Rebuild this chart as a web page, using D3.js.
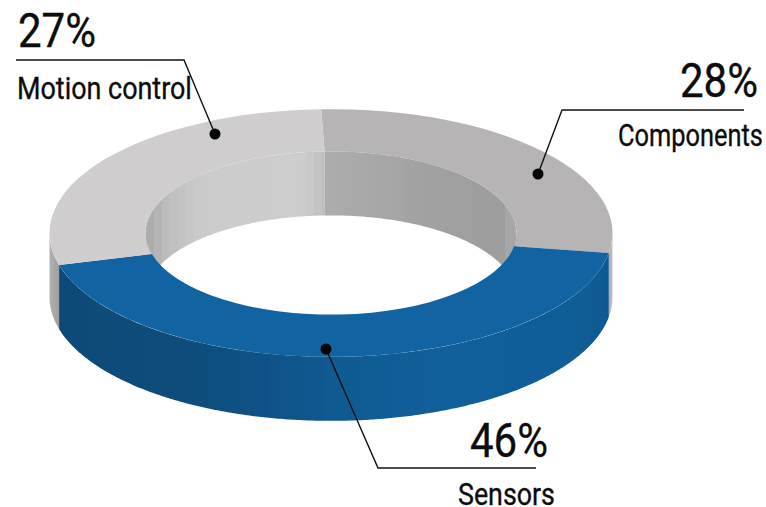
<!DOCTYPE html>
<html>
<head>
<meta charset="utf-8">
<script src="https://cdn.jsdelivr.net/npm/d3@7"></script>
<style>
  html, body { margin: 0; padding: 0; background: #fff; }
  text { font-family: "Roboto", sans-serif; fill: #0c0c0c; stroke: #0c0c0c; stroke-width: 0.35; }
</style>
</head>
<body>
<div id="chart"></div>
<script>
// Chart data, clockwise from the top of the ring
const categories = ["Components", "Sensors", "Motion control"];
const shares = [28, 46, 27];
const shareLabels = ["28%", "46%", "27%"];

const width = 766, height = 507;
const cx = 331, cy = 233;
const outerR = 281.5, innerR = 185.5;
const squash = 0.44; // ellipse height / width
const depth = 64;

const topColors = ["#b6b4b4", "#1163a1", "#cfcdce"];

// the original ring is not drawn exactly to proportion, so slice edges are bent onto it
const drawnEdges = [-2, 99.3, 255, 358];

const toRad = d => d * Math.PI / 180;

const svg = d3.select("#chart")
    .append("svg")
    .attr("width", width)
    .attr("height", height)
    .style("display", "block");

const defs = svg.append("defs");

// Pie layout from the shares
const pie = d3.pie().sort(null).startAngle(toRad(-2)).endAngle(toRad(358));
const slices = pie(shares);

const edgeDomain = [slices[0].startAngle].concat(slices.map(d => d.endAngle));
const bend = d3.scaleLinear().domain(edgeDomain).range(drawnEdges.map(toRad));

// Banded shading of the walls, by x position
const outerBlue = d3.scaleLinear()
    .domain([58, 180, 270, 340, 450, 570, 609])
    .range(["#0e4a78", "#0e4c7c", "#0f5288", "#105a92", "#115f9b", "#105e98", "#0f588f"]);
const outerGrey = d3.scaleLinear()
    .domain([49, 59, 608, 613])
    .range(["#b4b4b4", "#a0a0a0", "#a8a8a8", "#c6c6c6"]);
const innerLeft = d3.scaleLinear()
    .domain([145, 165, 200, 300, 312, 324])
    .range(["#a9a9a9", "#bcbcbc", "#cbcbcb", "#cdcdcd", "#c8c8c8", "#bdbdbd"]);
const innerRight = d3.scaleLinear()
    .domain([324, 450, 500, 516])
    .range(["#adadad", "#9f9f9f", "#9e9e9e", "#ababab"]);

const ptX = (r, a) => cx + r * Math.sin(a);
const ptY = (r, a) => cy - r * squash * Math.cos(a);

const line = d3.line();
let gradId = 0;

// Draws a wall between two angles (degrees), shaded with hard-edged vertical bands
function drawWall(g, r, from, to, colorOf, bandW) {
    const angles = d3.range(from, to, 0.5).concat([to]);
    const top = angles.map(a => [ptX(r, toRad(a)), ptY(r, toRad(a))]);
    const bottom = top.map(p => [p[0], p[1] + depth]).reverse();

    const [x0, x1] = d3.extent(top, p => p[0]);
    const id = "wall" + (gradId++);
    const grad = defs.append("linearGradient")
        .attr("id", id)
        .attr("gradientUnits", "userSpaceOnUse")
        .attr("x1", x0).attr("x2", x1)
        .attr("y1", 0).attr("y2", 0);

    d3.range(x0, x1, bandW).forEach(x => {
        const end = Math.min(x + bandW, x1);
        const c = colorOf((x + end) / 2);
        grad.append("stop").attr("offset", (x - x0) / (x1 - x0)).attr("stop-color", c);
        grad.append("stop").attr("offset", (end - x0) / (x1 - x0)).attr("stop-color", c);
    });

    g.append("path")
        .attr("d", line(top.concat(bottom)) + "Z")
        .attr("fill", `url(#${id})`);
}

// Outer wall, front half only
const outerWall = svg.append("g");
drawWall(outerWall, outerR, 90, drawnEdges[1], outerGrey, 1);
drawWall(outerWall, outerR, drawnEdges[2], 270, outerGrey, 2);
drawWall(outerWall, outerR, drawnEdges[1], drawnEdges[2], outerBlue, 14);

// Inner wall, back half only; its lower ends get covered by the top face
const innerWall = svg.append("g");
drawWall(innerWall, innerR, -90, drawnEdges[0], innerLeft, 8);
drawWall(innerWall, innerR, drawnEdges[0], 90, innerRight, 10);

// Top face
const arc = d3.arc().innerRadius(innerR).outerRadius(outerR);

svg.append("g")
    .attr("transform", `translate(${cx},${cy}) scale(1,${squash})`)
    .selectAll("path")
    .data(slices)
    .enter().append("path")
    .attr("d", d => arc({ startAngle: bend(d.startAngle), endAngle: bend(d.endAngle) }))
    .attr("fill", (d, i) => topColors[i]);

// No condensed font is installed, so texts are squeezed to the width they have in the original
function fitText(str, x, y, size, w) {
    const t = svg.append("text")
        .attr("font-size", size)
        .text(str);
    const sx = w / t.node().getComputedTextLength();
    t.attr("transform", `translate(${x},${y}) scale(${sx},1)`);
}

// Leader lines and labels
const leaders = [
    { path: [[744, 110], [562, 110], [538, 174]], dot: 2, pctX: 680, pctY: 97, pctW: 78, nameX: 618, nameY: 146, nameW: 145 },
    { path: [[326, 349], [378, 468], [536, 468]], dot: 0, pctX: 470, pctY: 457, pctW: 78, nameX: 458, nameY: 505, nameW: 97 },
    { path: [[16, 60], [184, 60], [215, 134]], dot: 2, pctX: 18, pctY: 47, pctW: 78, nameX: 17, nameY: 99, nameW: 175 }
];

leaders.forEach((l, i) => {
    svg.append("path")
        .attr("d", line(l.path))
        .attr("fill", "none")
        .attr("stroke", "#111")
        .attr("stroke-width", 1.4);

    svg.append("circle")
        .attr("cx", l.path[l.dot][0])
        .attr("cy", l.path[l.dot][1])
        .attr("r", 5.5)
        .attr("fill", "#050505");

    fitText(shareLabels[i], l.pctX, l.pctY, 48, l.pctW);
    fitText(categories[i], l.nameX, l.nameY, 31, l.nameW);
});
</script>
</body>
</html>
